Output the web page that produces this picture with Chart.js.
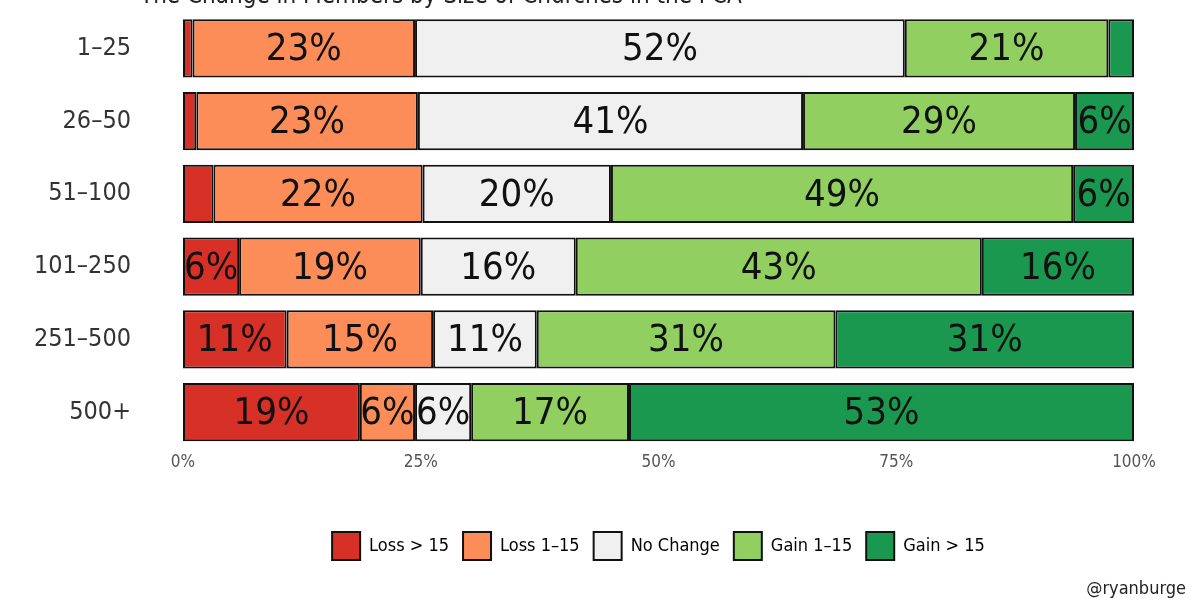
<!DOCTYPE html>
<html>
<head>
<meta charset="utf-8">
<script src="https://cdn.jsdelivr.net/npm/chart.js@4.4.1/dist/chart.umd.min.js"></script>
<style>
  html, body { margin: 0; padding: 0; background: #fff; }
  #wrap { position: relative; width: 1200px; height: 600px; overflow: hidden; }
  #c { position: absolute; left: 0; top: 0; }
  #credit { position: absolute; right: 14px; top: 577px; font: 18px "Liberation Sans Narrow", "DejaVu Sans Condensed", sans-serif; color: #222; }
</style>
</head>
<body>
<div id="wrap">
  <canvas id="c" width="1200" height="600"></canvas>
  <div id="credit">@ryanburge</div>
</div>
<script>
const titleText = "The Change in Members by Size of Churches in the PCA";
const categories = ["1–25", "26–50", "51–100", "101–250", "251–500", "500+"];
const seriesNames = ["Loss > 15", "Loss 1–15", "No Change", "Gain 1–15", "Gain > 15"];
const lossBig   = [1.0, 1.4, 3.2, 5.9, 10.9, 18.6];
const lossSmall = [23.4, 23.3, 22.0, 19.1, 15.4, 5.8];
const noChange  = [51.5, 40.5, 19.8, 16.3, 10.9, 5.9];
const gainSmall = [21.4, 28.6, 48.6, 42.7, 31.4, 16.6];
const gainBig   = [2.7, 6.2, 6.4, 16.0, 31.4, 53.1];
const xTicks = [0, 25, 50, 75, 100];
const colors = ["#d73027", "#fc8d59", "#f0f0f0", "#91cf60", "#1a9850"];

const FONT = '"Liberation Sans Narrow", "DejaVu Sans Condensed", sans-serif';
const seriesValues = [lossBig, lossSmall, noChange, gainSmall, gainBig];

const datasets = seriesValues.map((vals, i) => ({
  label: seriesNames[i],
  data: vals,
  backgroundColor: colors[i],
  borderColor: "#111",
  borderWidth: 2,
  borderSkipped: false,
  categoryPercentage: 0.8,
  barPercentage: 1.0
}));

const labelPlugin = {
  id: "segLabels",
  afterDatasetsDraw(chart) {
    const ctx = chart.ctx;
    ctx.save();
    ctx.font = "38px " + FONT;
    ctx.fillStyle = "#111";
    ctx.textAlign = "center";
    ctx.textBaseline = "middle";
    chart.data.datasets.forEach((ds, di) => {
      const meta = chart.getDatasetMeta(di);
      meta.data.forEach((bar, j) => {
        const v = ds.data[j];
        if (v < 4) return;
        const cx = (bar.x + bar.base) / 2;
        ctx.fillText(Math.round(v) + "%", cx, bar.y + 2);
      });
    });
    ctx.restore();
  }
};

const titlePlugin = {
  id: "cutTitle",
  afterDraw(chart) {
    const ctx = chart.ctx;
    ctx.save();
    ctx.font = "24px " + FONT;
    ctx.fillStyle = "#222";
    ctx.textAlign = "left";
    ctx.textBaseline = "alphabetic";
    ctx.fillText(titleText, 140, 3);
    ctx.restore();
  }
};

new Chart(document.getElementById("c"), {
  type: "bar",
  data: { labels: categories, datasets },
  options: {
    indexAxis: "y",
    responsive: false,
    animation: false,
    layout: { padding: { top: 12, left: 33, right: 66, bottom: 30 } },
    scales: {
      x: {
        stacked: true,
        min: 0, max: 100,
        afterBuildTicks(axis) { axis.ticks = xTicks.map(v => ({ value: v })); },
        afterFit(s) { s.height += 41; },
        grid: { display: false, drawTicks: false },
        border: { display: false },
        ticks: { color: "#555", padding: 4, font: { family: FONT, size: 17 }, callback: v => v + "%" }
      },
      y: {
        stacked: true,
        grid: { display: false, drawTicks: false },
        border: { display: false },
        afterFit(s) { s.width = 150; s.paddingTop = 0; s.paddingBottom = 0; },
        ticks: { color: "#333", padding: 52, font: { family: FONT, size: 25 } }
      }
    },
    plugins: {
      legend: {
        position: "bottom",
        fullSize: false,
        labels: {
          boxWidth: 28, boxHeight: 28, padding: 14,
          color: "#222",
          font: { family: FONT, size: 18 },
          generateLabels(chart) {
            return chart.data.datasets.map((ds, i) => ({
              text: ds.label, fillStyle: colors[i], strokeStyle: "#111", lineWidth: 2, datasetIndex: i, hidden: false
            }));
          }
        }
      },
      tooltip: { enabled: false },
      title: { display: false }
    }
  },
  plugins: [labelPlugin, titlePlugin]
});
</script>
</body>
</html>
